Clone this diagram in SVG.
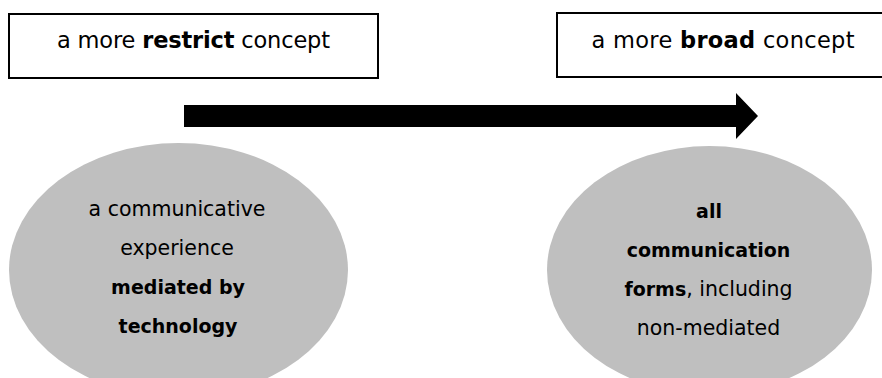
<svg xmlns="http://www.w3.org/2000/svg" width="882" height="378" viewBox="0 0 882 378">
  <style>
    .box { fill: #ffffff; stroke: #000000; stroke-width: 2; }
    .blob { fill: #bfbfbf; stroke: none; }
    .title { font-family: "DejaVu Sans", "Liberation Sans", sans-serif; font-size: 22.5px; fill: #000000; text-anchor: middle; }
    .body { font-family: "DejaVu Sans", "Liberation Sans", sans-serif; font-size: 20.5px; fill: #000000; text-anchor: middle; }
    .b { font-weight: bold; }
    .bl { font-weight: bold; font-size: 19px; }
  </style>

  <!-- scale ends: narrow vs broad -->
  <g id="restrict-concept">
    <rect class="box" x="9" y="14" width="369" height="64"/>
    <text class="title" x="193.5" y="47.5" textLength="273">a more <tspan class="b">restrict</tspan> concept</text>
  </g>
  <g id="broad-concept">
    <rect class="box" x="557" y="13" width="340" height="64"/>
    <text class="title" x="723" y="47.5" textLength="263">a more <tspan class="b">broad</tspan> concept</text>
  </g>

  <!-- the two definitions -->
  <g id="mediated-definition">
    <ellipse class="blob" cx="178.5" cy="270" rx="169.5" ry="127"/>
    <text class="body" x="177" y="216">a communicative</text>
    <text class="body" x="177" y="255">experience</text>
    <text class="body bl" x="178" y="294">mediated by</text>
    <text class="body bl" x="178" y="333">technology</text>
  </g>
  <g id="all-forms-definition">
    <ellipse class="blob" cx="709.5" cy="270" rx="162.5" ry="124"/>
    <text class="body bl" x="709" y="218">all</text>
    <text class="body bl" x="708.5" y="257">communication</text>
    <text class="body" x="708.5" y="296"><tspan class="bl">forms</tspan>, including</text>
    <text class="body" x="708.5" y="335">non-mediated</text>
  </g>

  <!-- direction of widening scope -->
  <g id="connectors">
    <polygon fill="#000000" points="184,105 736,105 736,93 758,116 736,139 736,127 184,127"/>
  </g>
</svg>
